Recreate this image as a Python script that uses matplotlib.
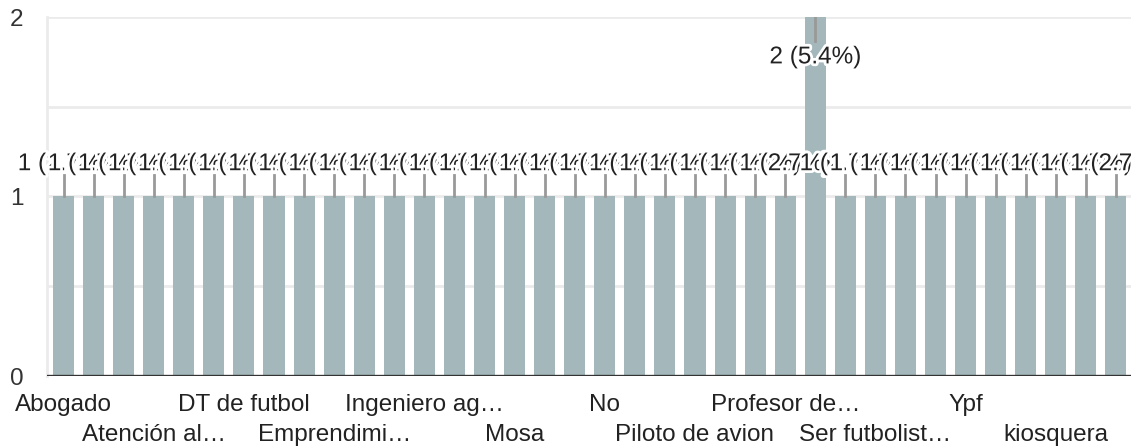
import matplotlib.pyplot as plt
import matplotlib.patheffects as pe

plt.rcParams['font.family'] = ['Liberation Sans', 'DejaVu Sans']

# categorias (orden alfabetico, como las ordena el formulario)
categories = [
    "Abogado", "Actriz", "Arquitecto", "Atención al…", "Chef", "Contador",
    "DT de futbol", "Docente", "Electricista", "Emprendimi…", "Enfermera", "Futbolista",
    "Ingeniero ag…", "Ingeniero en sistemas", "Médico", "Mosa", "Músico", "Nada",
    "No", "No sé", "Odontólogo", "Piloto de avion", "Policía", "Profesor",
    "Profesor de…", "Profesora", "Psicólogo", "Ser futbolist…", "Veterinario", "Youtuber",
    "Ypf", "abogada", "cocinero", "kiosquera", "maestra", "no sé",
]
counts = [1] * 25 + [2] + [1] * 10
total = 37

bar_color = '#a4b8bc'
x = list(range(len(categories)))

fig = plt.figure(figsize=(11.31, 4.48), dpi=100)
ax = fig.add_axes([47 / 1131, 72 / 448, 1084 / 1131, 359 / 448])

ax.bar(x, counts, width=0.7, color=bar_color, zorder=2)
ax.axhline(0, color='#333333', lw=2.4, zorder=3)

ax.set_xlim(-0.55, 35.5)
ax.set_ylim(0, 2)

# grilla
ax.set_yticks([0, 1, 2])
ax.set_yticklabels(['0', '1', '2'], fontsize=17.5, color='#333333')
ax.set_yticks([0.5, 1.5], minor=True)
ax.grid(axis='y', which='both', color='#ebebeb', lw=2, zorder=0)
ax.tick_params(axis='y', which='both', length=0, pad=17)
for s in ['top', 'right', 'bottom']:
    ax.spines[s].set_visible(False)
ax.spines['left'].set_color('#ebebeb')
ax.spines['left'].set_linewidth(2)

# etiquetas del eje x: una de cada tres, en dos filas
shown = x[::3]
labels = []
for k, i in enumerate(shown):
    labels.append(categories[i] if k % 2 == 0 else "\n" + categories[i])
ax.set_xticks(shown)
ax.set_xticklabels(labels, fontsize=17.5, color='#222222', linespacing=1.45)
ax.tick_params(axis='x', length=0, pad=13)

# etiquetas de valor con linea guia
ymax = max(counts)
for i, c in zip(x, counts):
    txt = f"{c} ({c / total * 100:.1f}%)"
    if c == ymax:
        ax.plot([i, i], [c, c - 0.135], color='#999999', lw=2, zorder=4 + i * 0.01)
        ty = c - 0.225
    else:
        ax.plot([i, i], [c, c + 0.12], color='#999999', lw=2, zorder=4 + i * 0.01)
        ty = c + 0.18
    ax.text(i, ty, txt, ha='center', va='center', fontsize=17.5, color='#222222',
            zorder=5 + i * 0.01, clip_on=False,
            path_effects=[pe.withStroke(linewidth=4, foreground='white')])

fig.savefig('out.png', dpi=100)
